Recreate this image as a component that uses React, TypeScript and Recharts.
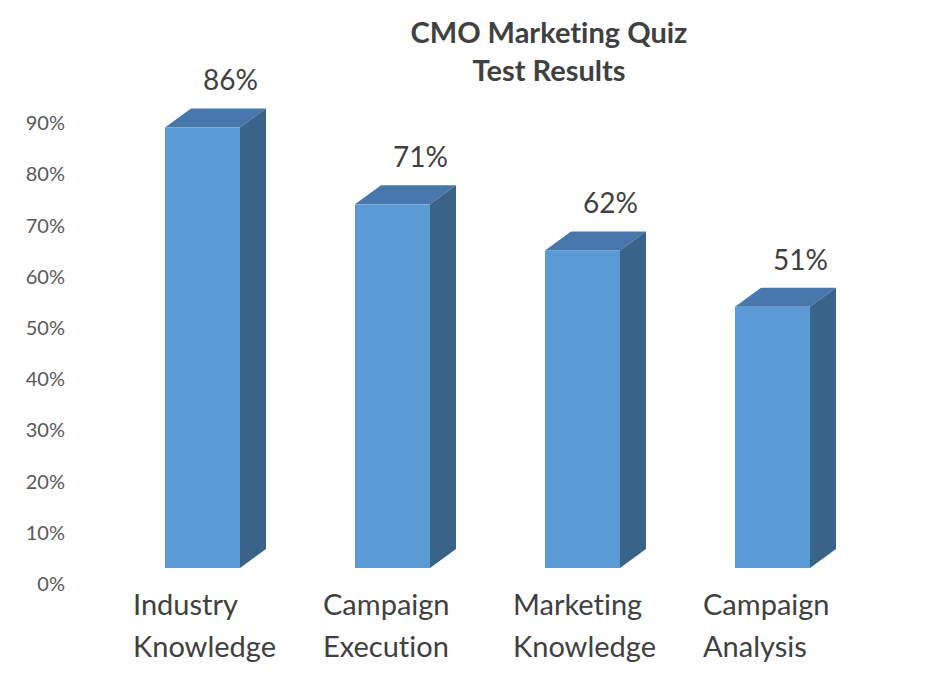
import { Bar, BarChart, LabelList, XAxis, YAxis } from 'recharts';

const categories = [
  'Industry Knowledge',
  'Campaign Execution',
  'Marketing Knowledge',
  'Campaign Analysis',
];
const scores = [0.86, 0.71, 0.62, 0.51];
const yTicks = [0, 0.1, 0.2, 0.3, 0.4, 0.5, 0.6, 0.7, 0.8, 0.9];

const data = categories.map((name, i) => ({ name, score: scores[i] }));

const FONT = 'Lato, "Open Sans", sans-serif';
const NOLIG = { fontVariantLigatures: 'none' as const };
const DX = 26;
const DY = 19;

const pct = (v: number) => `${Math.round(v * 100)}%`;

// 3D box: front face, top face, side face
const Box = (props: any) => {
  const { x, y, width, height } = props;
  if (height <= 0) return null;
  const r = x + width;
  const b = y + height;
  return (
    <g>
      <polygon
        points={`${x},${y} ${x + DX},${y - DY} ${r + DX},${y - DY} ${r},${y}`}
        fill="#4877AB"
      />
      <polygon
        points={`${r},${y} ${r + DX},${y - DY} ${r + DX},${b - DY} ${r},${b}`}
        fill="#3A6389"
      />
      <rect x={x} y={y} width={width} height={height} fill="#5B9BD5" />
    </g>
  );
};

const ValueLabel = (props: any) => {
  const { x, y, width, value } = props;
  return (
    <text
      x={x + width / 2 + 28}
      y={y - 37}
      textAnchor="middle"
      fontFamily={FONT}
      fontSize={28}
      fill="#404040"
    >
      {pct(value)}
    </text>
  );
};

const CatTick = (props: any) => {
  const { x, y, payload } = props;
  const words = String(payload.value).split(' ');
  return (
    <text fontFamily={FONT} fontSize={29} fill="#404040" textAnchor="start" style={NOLIG}>
      <tspan x={x - 69} y={y + 47}>{words[0]}</tspan>
      <tspan x={x - 69} y={y + 89}>{words[1]}</tspan>
    </text>
  );
};

const PctTick = (props: any) => {
  const { x, y, payload } = props;
  return (
    <text
      x={x}
      y={y + 16}
      dy="0.355em"
      textAnchor="end"
      fontFamily={FONT}
      fontSize={20}
      fill="#595959"
    >
      {pct(payload.value)}
    </text>
  );
};

export default function App() {
  return (
    <div style={{ position: 'absolute', left: 0, top: 0, width: 950, height: 690, background: '#fff' }}>
      <div
        style={{
          position: 'absolute',
          left: 349,
          top: 13,
          width: 400,
          textAlign: 'center',
          fontFamily: FONT,
          fontWeight: 700,
          fontSize: 29,
          lineHeight: '38px',
          color: '#404040',
          ...NOLIG,
        }}
      >
        CMO Marketing Quiz
        <br />
        Test Results
      </div>
      <BarChart
        width={950}
        height={690}
        data={data}
        margin={{ top: 107, right: 83, bottom: 0, left: 0 }}
      >
        <XAxis
          dataKey="name"
          height={122}
          axisLine={false}
          tickLine={false}
          tickSize={0}
          tickMargin={0}
          interval={0}
          tick={<CatTick />}
        />
        <YAxis
          width={107}
          domain={[0, 0.9]}
          ticks={yTicks}
          axisLine={false}
          tickLine={false}
          tickSize={0}
          tickMargin={42}
          tick={<PctTick />}
        />
        <Bar dataKey="score" barSize={75} shape={<Box />} isAnimationActive={false}>
          <LabelList dataKey="score" content={<ValueLabel />} />
        </Bar>
      </BarChart>
    </div>
  );
}
